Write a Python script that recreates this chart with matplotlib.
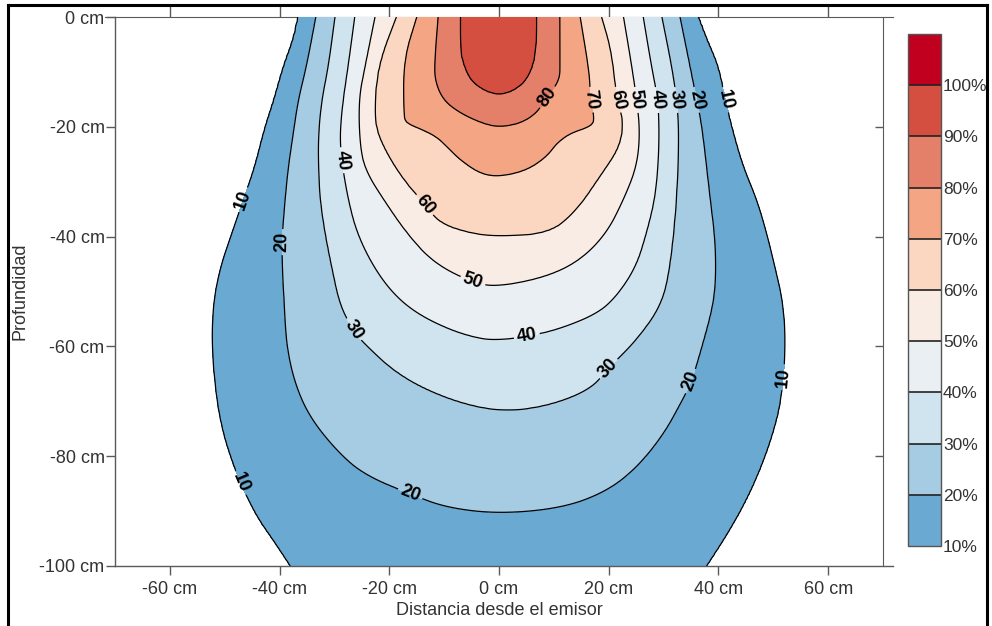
import numpy as np
import matplotlib.pyplot as plt
from matplotlib.path import Path
from matplotlib.lines import Line2D

plt.rcParams['font.family'] = ['Liberation Sans', 'DejaVu Sans']

levels = [10, 20, 30, 40, 50, 60, 70, 80, 90]
band_colors = ['#6aa9d2', '#a5cce3', '#d0e4ef', '#e9eff3', '#f9ece5',
               '#fbd7c2', '#f3a584', '#e4806a', '#d44f3f', '#c0001e']
cbar_ticks = [10, 20, 30, 40, 50, 60, 70, 80, 90, 100]
x_ticks = [-60, -40, -20, 0, 20, 40, 60]
y_ticks = [0, -20, -40, -60, -80, -100]

# contour lines: (distance cm, depth cm)
# right branch and left branch, both from the surface downwards
right_10 = [(36.3, 0), (37.9, -4.2), (40.0, -9), (41.2, -15.1), (42.7, -21.2), (44.5, -27.3),
            (47.0, -33.3), (48.8, -39.4), (50.3, -45.5), (51.8, -52), (52.3, -60), (51.5, -69.8),
            (50.0, -75.8), (47.9, -81.8), (45.2, -87.9), (41.8, -94), (37.9, -100)]
left_10 = [(-36.6, 0), (-37.5, -4.2), (-39.3, -9), (-41.0, -15.1), (-42.7, -20.2), (-44.5, -27.3),
           (-46.6, -33.3), (-48.7, -39.4), (-50.8, -45.5), (-52.1, -52), (-52.4, -60), (-51.5, -69.8),
           (-50.3, -75.8), (-49.0, -80), (-47.2, -84.9), (-44.2, -91), (-41.2, -95.3), (-38.1, -100)]

right_20 = [(33.0, 0), (34.8, -9), (36.0, -15.1), (37.0, -19.9), (38.5, -33.3), (39.4, -40.6),
            (39.5, -48), (38.9, -53), (37.0, -60), (35.1, -66.4), (33.3, -70), (30.0, -76),
            (25.1, -82.1), (19.6, -86.4), (11.7, -89.4), (0.2, -90.5)]
left_20 = [(-33.4, 0), (-35.1, -9), (-36.6, -15.1), (-37.5, -21.2), (-38.4, -27.3), (-39.0, -33.3),
           (-39.6, -41), (-39.4, -47.5), (-39.1, -53), (-38.7, -60), (-37.2, -66.8), (-34.5, -72.9),
           (-29.6, -79), (-24.7, -83.3), (-16.2, -86.9), (-9.5, -89.4), (0.2, -90.5)]

right_30 = [(29.7, 0), (31.5, -9), (32.4, -15.1), (32.8, -21.2), (32.4, -33.3), (31.2, -45.5),
            (29.6, -52.5), (25.1, -58.8), (19.9, -64), (16.6, -67.9), (8.7, -70.9), (0.2, -71.9)]
left_30 = [(-29.9, 0), (-31.1, -9), (-32.3, -15.1), (-32.9, -21.2), (-32.9, -27.3), (-32.6, -33.3),
           (-31.7, -39.4), (-30.5, -45.5), (-29.0, -52.5), (-26.6, -57), (-24.7, -59.4),
           (-18.0, -65.5), (-8.9, -69.8), (0.2, -71.9)]

right_40 = [(26.3, 0), (27.8, -9), (29.0, -15.1), (29.2, -21.2), (29.0, -27.3), (28.4, -33.3),
            (26.9, -39.4), (25.0, -45.5), (21.5, -50.8), (18.0, -54), (11.1, -56.8), (5.1, -58.2),
            (0, -58.8)]
left_40 = [(-26.3, 0), (-27.5, -9), (-28.4, -15.1), (-29.0, -21.2), (-28.7, -26.1), (-27.5, -33.3),
           (-25.9, -39.4), (-22.9, -45.5), (-19.3, -50.4), (-15.0, -54), (-8.9, -57), (-3.5, -58.6),
           (0, -58.8)]

right_50 = [(22.7, 0), (24.2, -9), (25.1, -15.1), (25.7, -21.2), (25.1, -27.3), (22.7, -33.3),
            (19.6, -39.4), (14.8, -44.3), (8.7, -47.3), (0, -49.1)]
left_50 = [(-22.6, 0), (-24.4, -9), (-25.6, -15.1), (-25.3, -24.2), (-24.1, -28.4), (-21.0, -33.3),
           (-16.8, -39.4), (-11.9, -44.8), (-4.6, -48.5), (0, -49.1)]

right_60 = [(18.7, 0), (20.5, -6.1), (21.5, -15.1), (22.7, -18.8), (22.1, -23.6), (18.4, -29.1),
            (14.2, -35.2), (9.3, -39.4), (0, -40)]
left_60 = [(-18.7, 0), (-21.7, -7.8), (-22.6, -14), (-22.6, -20), (-20.5, -24.8), (-17.4, -29.7),
           (-13.5, -34.2), (-10.8, -37.6), (-5.3, -39.4), (0, -40)]

right_70 = [(14.8, 0), (16.6, -10.9), (16.6, -15.1), (17.5, -18.8), (16.6, -20), (12.9, -21.2),
            (10.5, -23), (8.7, -25.4), (5.1, -27.9), (0, -29.1)]
left_70 = [(-15.0, 0), (-17.4, -7.8), (-17.4, -18.2), (-16.8, -19.4), (-13.8, -20.6), (-11.4, -21.8),
           (-9.5, -23.6), (-7.1, -26), (-3.5, -28.5), (0, -29.1)]

right_80 = [(11.1, 0), (11.1, -7.8), (11.1, -11.5), (8.7, -14.5), (6.9, -17.5), (3.8, -19.4),
            (0, -20)]
left_80 = [(-11.1, 0), (-11.7, -7.8), (-11.7, -11.5), (-10.2, -15.1), (-7.1, -17.5), (-2.9, -19.4),
           (0, -20)]

right_90 = [(6.9, 0), (6.9, -2.9), (6.6, -7.8), (5.1, -11.5), (2.6, -13.5), (0, -14.2)]
left_90 = [(-7.1, 0), (-7.1, -4.8), (-6.8, -7.8), (-5.3, -11.5), (-2.6, -13.5), (0, -14.2)]

# where the labels sit on the lines
label_spots = [(8.7, -14.5), (16.6, -15.1), (21.5, -15.1), (25.1, -15.1), (29.0, -15.1),
               (32.4, -15.1), (36.0, -15.1), (41.2, -15.1), (-46.6, -33.3), (-39.6, -41),
               (-28.7, -26.1), (-13.5, -34.2), (-4.9, -48.5), (-26.6, -57), (5.1, -58.2),
               (19.9, -64), (35.1, -66.4), (51.8, -65.6), (-47.2, -84.9), (-16.2, -86.9)]

branches = [(right_10, left_10), (right_20, left_20), (right_30, left_30), (right_40, left_40),
            (right_50, left_50), (right_60, left_60), (right_70, left_70), (right_80, left_80),
            (right_90, left_90)]


def extend(p0, p1, z):
    t = (z - p0[1]) / (p0[1] - p1[1])
    return p0 + t * (p0 - p1)


def outline(right, left):
    r = np.array(right, float)
    l = np.array(left, float)
    pts = [extend(r[0], r[1], 8)] + list(r)
    if r[-1, 1] <= -100:
        pts += [extend(r[-1], r[-2], -108), extend(l[-1], l[-2], -108)]
        pts += list(l[::-1])
    else:
        pts += list(l[-2::-1])
    pts.append(extend(l[0], l[1], 8))
    pts = np.array(pts)
    for _ in range(3):
        q = np.roll(pts, -1, axis=0)
        pts = np.column_stack([0.75 * pts + 0.25 * q, 0.25 * pts + 0.75 * q]).reshape(-1, 2)
    return pts


gx = np.linspace(-70, 70, 351)
gz = np.linspace(-100, 0, 251)
X, Z = np.meshgrid(gx, gz)
px, pz = X.ravel(), Z.ravel()


def boundary_dist(poly):
    d = np.full(px.shape, np.inf)
    nxt = np.roll(poly, -1, axis=0)
    for (ax0, az0), (bx0, bz0) in zip(poly, nxt):
        vx, vz = bx0 - ax0, bz0 - az0
        t = np.clip(((px - ax0) * vx + (pz - az0) * vz) / (vx * vx + vz * vz + 1e-12), 0, 1)
        np.minimum(d, (px - ax0 - t * vx) ** 2 + (pz - az0 - t * vz) ** 2, out=d)
    return np.sqrt(d)


polys = [outline(r, l) for r, l in branches]
inside = np.array([Path(p).contains_points(np.column_stack([px, pz])) for p in polys])
dist = np.array([boundary_dist(p) for p in polys])
k = inside.sum(0)
cols = np.arange(px.size)
v = np.empty(px.size)
out = k == 0
v[out] = 10 - np.minimum(dist[0, out], 9)
core = k == 9
v[core] = 90 + np.minimum(dist[8, core], 9)
mid = ~out & ~core
din = dist[k[mid] - 1, cols[mid]]
dout = dist[k[mid], cols[mid]]
v[mid] = 10 * k[mid] + 10 * din / (din + dout)
V = v.reshape(X.shape)

fig = plt.figure(figsize=(9.92, 6.26), dpi=100)
ax = fig.add_axes([115 / 992, 1 - 566 / 626, 768 / 992, 549 / 626])

cf = ax.contourf(X, Z, V, levels=levels + [100, 110], colors=band_colors)
cs = ax.contour(X, Z, V, levels=levels, colors='black', linewidths=0.9)
lbls = ax.clabel(cs, levels, inline=True, fmt='%d', fontsize=13, manual=label_spots,
                 inline_spacing=3)
for t in lbls:
    t.set_fontweight('bold')

ax.set_xlim(-70, 70)
ax.set_ylim(-100, 0)
spine_c = '#5a5a5a'
for s in ax.spines.values():
    s.set_color(spine_c)
    s.set_linewidth(1.0)
ax.spines['top'].set_visible(False)
ax.spines['right'].set_visible(False)
ax.spines['bottom'].set_bounds(-70, 71.8)
ax.set_xticks(x_ticks)
ax.set_xticklabels([f'{t} cm' for t in x_ticks])
ax.set_yticks(y_ticks)
ax.set_yticklabels([f'{t} cm' for t in y_ticks])
ax.tick_params(direction='out', length=6.5, width=1.0, color=spine_c, labelsize=13,
               labelcolor='#333333')
ax.tick_params(axis='y', pad=1)
ax.tick_params(axis='x', pad=4)

top = ax.secondary_xaxis('top')
top.set_xticks(x_ticks)
top.tick_params(direction='out', length=9, width=1.0, color=spine_c, labeltop=False)
top.spines['top'].set_color(spine_c)
top.spines['top'].set_bounds(-71.8, 71.8)

right = ax.secondary_yaxis('right')
right.set_yticks(y_ticks[1:-1])
right.tick_params(direction='in', length=5.5, width=1.0, color=spine_c, labelright=False)
right.spines['right'].set_color(spine_c)

ax.set_xlabel('Distancia desde el emisor', fontsize=13, color='#333333')
ax.set_ylabel('Profundidad', fontsize=13, color='#333333')
ax.xaxis.set_label_coords(0.5, -0.066)
ax.yaxis.set_label_coords(-0.113, 0.5)

cax = fig.add_axes([908 / 992, 1 - 546 / 626, 33 / 992, 512 / 626])
cb = fig.colorbar(cf, cax=cax, ticks=cbar_ticks, drawedges=True)
cb.set_ticklabels([f'{t}%' for t in cbar_ticks])
cb.ax.tick_params(length=0, labelsize=12.5, pad=1.5, labelcolor='#333333')
cb.outline.set_edgecolor('#555555')
cb.outline.set_linewidth(1.0)
cb.dividers.set_color('#222222')
cb.dividers.set_linewidth(1.2)

# black frame around the picture
fx, ftop, fr = 8 / 992, 1 - 5 / 626, 987 / 992
for xs, ys in [([fx, fx], [0, ftop]), ([fx, fr], [ftop, ftop]), ([fr, fr], [ftop, 0])]:
    fig.add_artist(Line2D(xs, ys, color='black', linewidth=2.2, transform=fig.transFigure))

fig.savefig('out.png', dpi=100)
